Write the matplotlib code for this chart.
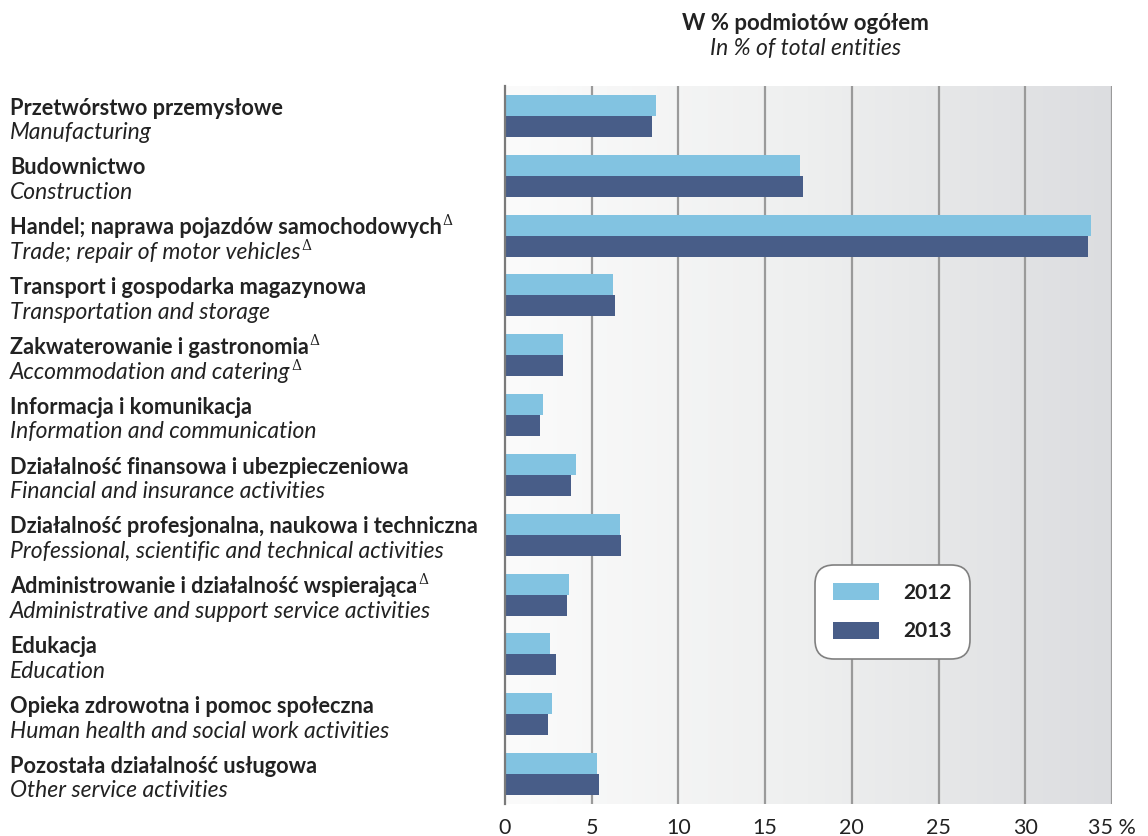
import numpy as np
import matplotlib
matplotlib.use("Agg")
import matplotlib.pyplot as plt
from matplotlib.colors import LinearSegmentedColormap

# ── data ──────────────────────────────────────────────
labels_pl = [
    "Przetwórstwo przemysłowe",
    "Budownictwo",
    "Handel; naprawa pojazdów samochodowych",
    "Transport i gospodarka magazynowa",
    "Zakwaterowanie i gastronomia",
    "Informacja i komunikacja",
    "Działalność finansowa i ubezpieczeniowa",
    "Działalność profesjonalna, naukowa i techniczna",
    "Administrowanie i działalność wspierająca",
    "Edukacja",
    "Opieka zdrowotna i pomoc społeczna",
    "Pozostała działalność usługowa",
]
labels_en = [
    "Manufacturing",
    "Construction",
    "Trade; repair of motor vehicles",
    "Transportation and storage",
    "Accommodation and catering",
    "Information and communication",
    "Financial and insurance activities",
    "Professional, scientific and technical activities",
    "Administrative and support service activities",
    "Education",
    "Human health and social work activities",
    "Other service activities",
]
# footnote marks (Δ) after the Polish / English label
delta_pl = [0, 0, 1, 0, 1, 0, 0, 0, 1, 0, 0, 0]
delta_en = [0, 0, 1, 0, 1, 0, 0, 0, 0, 0, 0, 0]
v2012 = [8.7, 17.0, 33.8, 6.2, 3.35, 2.2, 4.1, 6.65, 3.7, 2.6, 2.7, 5.3]
v2013 = [8.5, 17.2, 33.6, 6.35, 3.35, 2.0, 3.8, 6.7, 3.6, 2.95, 2.5, 5.4]
xticks = [0, 5, 10, 15, 20, 25, 30, 35]
xtick_labels = ["0", "5", "10", "15", "20", "25", "30", "35 %"]

C2012 = "#82c3e1"
C2013 = "#485d88"
TXT = "#222222"

plt.rcParams["font.family"] = ["Lato", "DejaVu Sans"]

fig = plt.figure(figsize=(11.48, 8.36), dpi=100)
ax = fig.add_axes([505 / 1148, 1 - 804 / 836, 607 / 1148, 718 / 836])

# background gradient
cmap = LinearSegmentedColormap.from_list("bg", ["#fbfbfb", "#eeefef", "#dcdde0"])
grad = np.linspace(0, 1, 256).reshape(1, -1)
ax.imshow(grad, cmap=cmap, aspect="auto", extent=[0, 35, 11.5, -0.5], zorder=0)

y = np.arange(len(v2012))
h = 0.35
ax.barh(y - h / 2, v2012, height=h, color=C2012, zorder=3, label="2012")
ax.barh(y + h / 2, v2013, height=h, color=C2013, zorder=3, label="2013")

ax.set_xlim(0, 35)
ax.set_ylim(11.5, -0.5)
for x in xticks[1:]:
    ax.axvline(x, color="#9a9a9a", lw=1.6, zorder=1)

for s in ["top", "right", "bottom"]:
    ax.spines[s].set_visible(False)
ax.spines["left"].set_color("#7a7a7a")
ax.spines["left"].set_linewidth(1.6)
ax.spines["left"].set_zorder(4)

ax.set_yticks([])
ax.set_xticks(xticks)
ax.set_xticklabels(xtick_labels, fontsize=15.5, color=TXT)
ax.tick_params(axis="x", length=0, pad=10)

# category labels on the left
pl_texts, en_texts = [], []
for i, (pl, en) in enumerate(zip(labels_pl, labels_en)):
    pl_texts.append(ax.annotate(pl, xy=(10 / 1148, i - 0.13), xycoords=("figure fraction", "data"),
                                fontsize=15.7, fontweight="bold", color=TXT, va="center", ha="left"))
    en_texts.append(ax.annotate(en, xy=(10 / 1148, i + 0.28), xycoords=("figure fraction", "data"),
                                fontsize=16.5, fontstyle="italic", color=TXT, va="center", ha="left"))

# small Δ marks placed right after the label text, raised
fig.canvas.draw()
renderer = fig.canvas.get_renderer()
inv = fig.transFigure.inverted()
for marks, texts in [(delta_pl, pl_texts), (delta_en, en_texts)]:
    for m, t in zip(marks, texts):
        if not m:
            continue
        bb = t.get_window_extent(renderer)
        x0, y0 = inv.transform((bb.x1 + 1, bb.y1 + 3))
        fig.text(x0, y0, "Δ", fontsize=10, family="DejaVu Serif", color=TXT,
                 ha="left", va="top")

# title
fig.text(805 / 1148, 1 - 23 / 836, "W % podmiotów ogółem", fontsize=16,
         fontweight="bold", ha="center", va="center", color=TXT)
fig.text(805 / 1148, 1 - 48 / 836, "In % of total entities", fontsize=16.5,
         fontstyle="italic", ha="center", va="center", color=TXT)

leg = ax.legend(loc="upper left", bbox_to_anchor=(310 / 607, 1 - (565 - 86) / 718),
                borderaxespad=0, frameon=True, fancybox=True,
                handlelength=2.2, handleheight=0.87, handletextpad=1.2,
                labelspacing=0.9, borderpad=0.85,
                prop={"weight": "bold", "size": 15})
for t in leg.get_texts():
    t.set_color(TXT)
frame = leg.get_frame()
frame.set_edgecolor("#808080")
frame.set_linewidth(1.2)
frame.set_facecolor("white")
frame.set_alpha(1)
frame.set_boxstyle("round", pad=0, rounding_size=0.9)

fig.savefig("out.png", dpi=100)
